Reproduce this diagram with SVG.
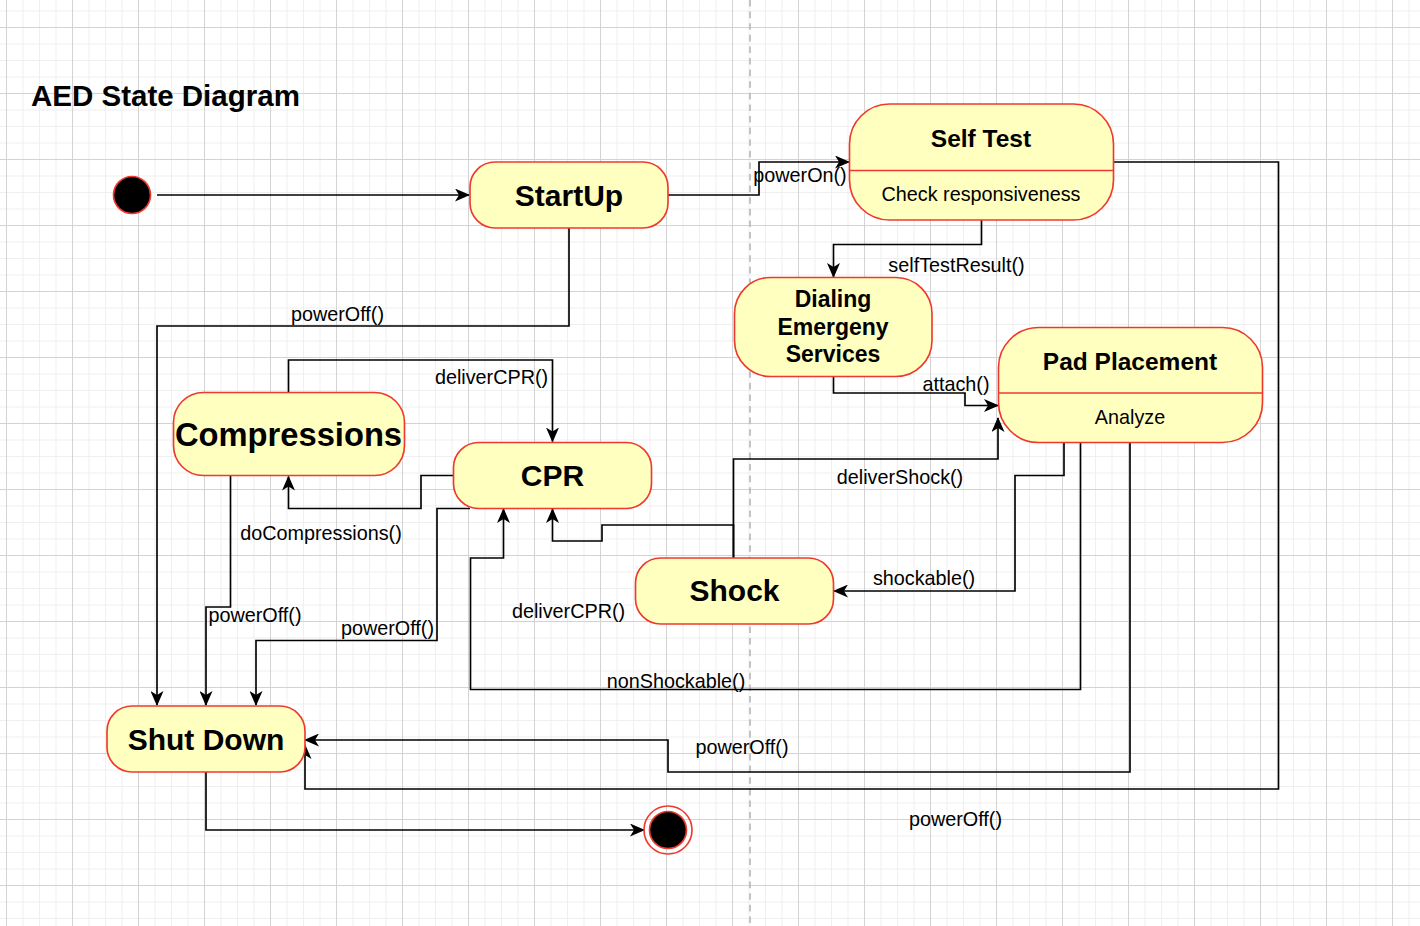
<svg xmlns="http://www.w3.org/2000/svg" width="1420" height="926" viewBox="0 0 1420 926">
<style>
.node{fill:#ffffc0;stroke:#ee3a2e;stroke-width:1.65}
.div{stroke:#ee3a2e;stroke-width:1.65;fill:none}
.edge{fill:none;stroke:#000;stroke-width:1.65;marker-end:url(#arr)}
.t{font-family:"Liberation Sans",Arial,Helvetica,sans-serif;fill:#000;text-anchor:middle}
.big{font-size:30px;font-weight:bold}
.mid{font-size:24.5px;font-weight:bold}
.dial{font-size:23px;font-weight:bold}
.lbl{font-size:19.8px}
</style>
<defs>
<pattern id="grid" x="6" y="27" width="66" height="66" patternUnits="userSpaceOnUse">
<path d="M17,0V66M33.5,0V66M50,0V66M0,17H66M0,33.5H66M0,50H66" stroke="#efefef" stroke-width="1" fill="none"/>
<path d="M0.5,0V66M0,0.5H66" stroke="#d3d3d3" stroke-width="1" fill="none"/>
</pattern>
<marker id="arr" viewBox="0 0 15 13" refX="14" refY="6.5" markerWidth="15" markerHeight="13" markerUnits="userSpaceOnUse" orient="auto">
<path d="M0,0 L15,6.5 L0,13 L4,6.5 Z" fill="#000"/>
</marker>
</defs>
<rect width="1420" height="926" fill="#fff"/>
<rect width="1420" height="926" fill="url(#grid)"/>
<line x1="750" y1="0" x2="750" y2="926" stroke="#b8b8b8" stroke-width="1.65" stroke-dasharray="6.6 5"/>

<text class="t" x="31" y="106" style="text-anchor:start;font-size:29.5px;font-weight:bold">AED State Diagram</text>

<g id="connectors">
<path class="edge" d="M157,195 H469"/>
<path class="edge" d="M668,195 H759 V162 H849"/>
<path class="edge" d="M981.5,220 V244.5 H833.5 V277"/>
<path class="edge" d="M833.5,377 V393 H965 V405.5 H998"/>
<path class="edge" d="M569,228 V326 H157 V705"/>
<path class="edge" d="M288.5,393 V360 H552.5 V441.5"/>
<path class="edge" d="M454,475.5 H421 V508.5 H288.5 V476.5"/>
<path class="edge" d="M230.5,476 V607 H206 V705"/>
<path class="edge" d="M470,508.5 H437 V640.5 H256 V705"/>
<path class="edge" d="M1080.5,442 V689.5 H470.5 V558 H503.5 V509"/>
<path class="edge" d="M733.5,558 V525 H602 V541 H552.5 V509"/>
<path class="edge" d="M733.5,558 V459 H998 V418"/>
<path class="edge" d="M1064,442 V475.5 H1015 V591 H834"/>
<path class="edge" d="M1130,442 V772 H668 V740 H305"/>
<path class="edge" d="M1113,162 H1278.5 V789 H305 V745"/>
<path class="edge" d="M206,772 V830 H644"/>
<text class="t lbl" x="800" y="182">powerOn()</text>
<text class="t lbl" x="956.5" y="272">selfTestResult()</text>
<text class="t lbl" x="337.5" y="321">powerOff()</text>
<text class="t lbl" x="491.5" y="384">deliverCPR()</text>
<text class="t lbl" x="956" y="391">attach()</text>
<text class="t lbl" x="900" y="484">deliverShock()</text>
<text class="t lbl" x="321" y="540">doCompressions()</text>
<text class="t lbl" x="924" y="585">shockable()</text>
<text class="t lbl" x="568.5" y="618">deliverCPR()</text>
<text class="t lbl" x="255" y="622">powerOff()</text>
<text class="t lbl" x="387.5" y="635">powerOff()</text>
<text class="t lbl" x="676" y="688">nonShockable()</text>
<text class="t lbl" x="742" y="754">powerOff()</text>
<text class="t lbl" x="955.5" y="826">powerOff()</text>
</g>

<g id="initial">
<circle cx="132" cy="195" r="18.5" fill="#000" stroke="#ee3a2e" stroke-width="1.65"/>
</g>
<g id="startup">
<rect class="node" x="470" y="162" width="198" height="66" rx="25"/>
<text class="t big" x="569" y="205.5">StartUp</text>
</g>
<g id="selftest">
<rect class="node" x="849.5" y="104" width="264" height="116" rx="40"/>
<line class="div" x1="849.5" y1="170.5" x2="1113.5" y2="170.5"/>
<text class="t mid" x="981" y="146.5">Self Test</text>
<text class="t lbl" x="981" y="201">Check responsiveness</text>
</g>
<g id="dialing">
<rect class="node" x="734.5" y="277.5" width="197.5" height="99" rx="36"/>
<text class="t dial" x="833" y="307">Dialing</text>
<text class="t dial" x="833" y="334.5">Emergeny</text>
<text class="t dial" x="833" y="362">Services</text>
</g>
<g id="padplacement">
<rect class="node" x="998.5" y="327.5" width="264" height="115" rx="40"/>
<line class="div" x1="998.5" y1="393" x2="1262.5" y2="393"/>
<text class="t mid" x="1130" y="369.5">Pad Placement</text>
<text class="t lbl" x="1130" y="423.5">Analyze</text>
</g>
<g id="compressions">
<rect class="node" x="173.5" y="392.5" width="231" height="83" rx="30"/>
<text class="t big" x="288.5" y="445.5" style="font-size:32.7px">Compressions</text>
</g>
<g id="cpr">
<rect class="node" x="453.5" y="442.5" width="198" height="66" rx="25"/>
<text class="t big" x="552.5" y="486">CPR</text>
</g>
<g id="shock">
<rect class="node" x="635.5" y="558" width="198" height="66" rx="25"/>
<text class="t big" x="734.5" y="601">Shock</text>
</g>
<g id="shutdown">
<rect class="node" x="107" y="706" width="198" height="66" rx="25"/>
<text class="t big" x="206" y="749.5">Shut Down</text>
</g>
<g id="final">
<circle cx="668" cy="830" r="24" fill="none" stroke="#ee3a2e" stroke-width="1.65"/>
<circle cx="668" cy="830" r="18.5" fill="#000" stroke="#ee3a2e" stroke-width="1.65"/>
</g>
</svg>
